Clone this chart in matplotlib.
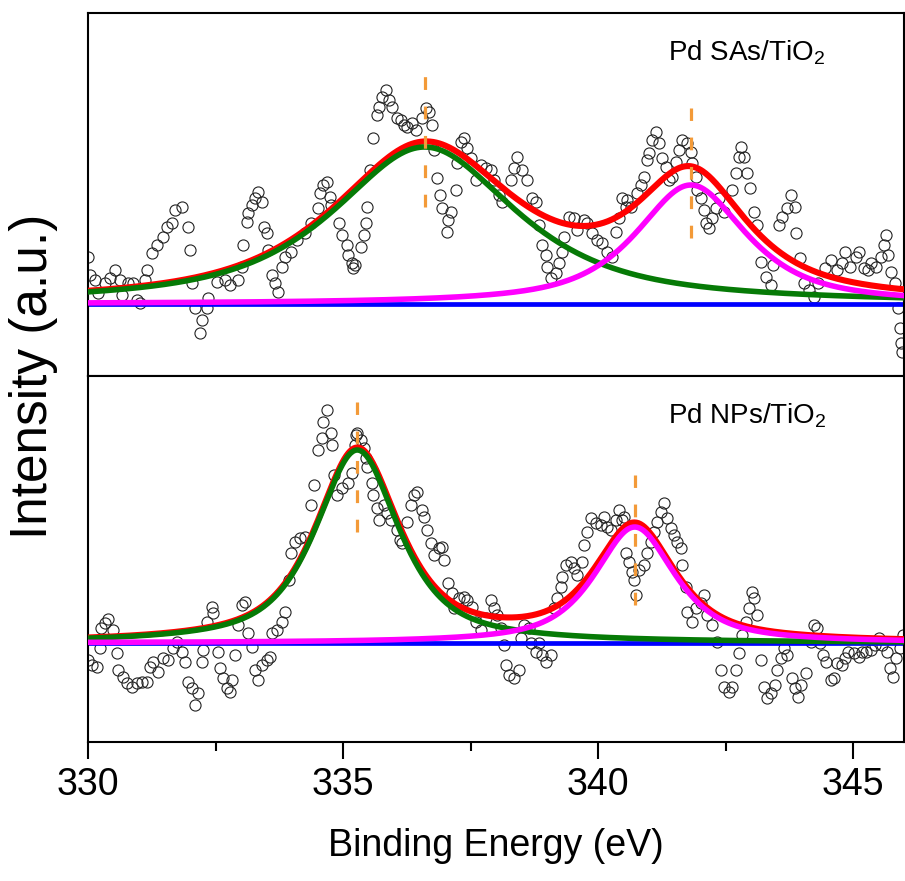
import numpy as np
import matplotlib
matplotlib.use("Agg")
import matplotlib.pyplot as plt

plt.rcParams['font.family'] = ['Liberation Sans', 'DejaVu Sans']
plt.rcParams['mathtext.fontset'] = 'custom'
plt.rcParams['mathtext.rm'] = 'Liberation Sans'
plt.rcParams['mathtext.it'] = 'Liberation Sans:italic'

# Pd 3d spectra after background subtraction: (binding energy eV, intensity a.u.)
sa_points = [
    (330.00, 47), (330.04, 29), (330.14, 24), (330.20, 11), (330.33, 21), (330.43, 26),
    (330.53, 34), (330.63, 24), (330.67, 9), (330.78, 21), (330.88, 21), (330.96, 4),
    (331.02, 1), (331.12, 24), (331.15, 34), (331.25, 51), (331.35, 59), (331.47, 67),
    (331.55, 77), (331.64, 81), (331.70, 94), (331.84, 97), (331.96, 77), (332.00, 54),
    (332.04, 21), (332.09, -4), (332.19, -29), (332.23, -16), (332.33, -4), (332.35, 6),
    (332.52, 22), (332.68, 24), (332.78, 19), (332.94, 24), (333.01, 37), (333.03, 59),
    (333.11, 82), (333.13, 91), (333.21, 99), (333.27, 106), (333.33, 112), (333.41, 102),
    (333.46, 77), (333.50, 71), (333.52, 54), (333.60, 29), (333.66, 21), (333.72, 12),
    (333.80, 37), (333.86, 47), (333.99, 52), (334.09, 64), (334.25, 71), (334.38, 81),
    (334.50, 96), (334.54, 111), (334.60, 119), (334.68, 122), (334.74, 107), (334.77, 99),
    (334.93, 81), (334.99, 69), (335.07, 59), (335.09, 49), (335.17, 41), (335.19, 36),
    (335.23, 39), (335.36, 57), (335.42, 69), (335.46, 81), (335.48, 97), (335.52, 134),
    (335.58, 166), (335.66, 189), (335.71, 197), (335.77, 207), (335.85, 214), (335.91, 204),
    (335.97, 197), (336.05, 186), (336.14, 184), (336.20, 179), (336.26, 177), (336.36, 181),
    (336.44, 174), (336.54, 186), (336.63, 196), (336.69, 192), (336.75, 179), (336.79, 154),
    (336.85, 126), (336.91, 109), (336.95, 96), (337.03, 72), (337.05, 84), (337.12, 92),
    (337.22, 114), (337.24, 141), (337.32, 162), (337.38, 166), (337.44, 156), (337.51, 146),
    (337.61, 124), (337.71, 139), (337.81, 136), (337.91, 134), (337.96, 124), (338.06, 109),
    (338.12, 102), (338.30, 124), (338.36, 136), (338.41, 147), (338.51, 134), (338.61, 124),
    (338.71, 106), (338.79, 102), (338.85, 79), (338.90, 59), (338.98, 49), (339.00, 37),
    (339.08, 26), (339.18, 31), (339.24, 41), (339.30, 52), (339.33, 67), (339.43, 87),
    (339.53, 86), (339.59, 74), (339.73, 84), (339.78, 81), (339.88, 71), (339.98, 64),
    (340.08, 61), (340.18, 52), (340.27, 47), (340.35, 72), (340.41, 86), (340.47, 106),
    (340.55, 97), (340.57, 104), (340.65, 97), (340.76, 111), (340.84, 119), (340.90, 127),
    (340.96, 144), (341.00, 151), (341.06, 164), (341.13, 172), (341.19, 161), (341.25, 146),
    (341.33, 137), (341.39, 124), (341.45, 127), (341.53, 142), (341.59, 154), (341.64, 164),
    (341.74, 161), (341.82, 152), (341.84, 141), (341.92, 127), (341.94, 114), (342.02, 106),
    (342.07, 94), (342.11, 81), (342.17, 76), (342.23, 86), (342.31, 96), (342.37, 106),
    (342.47, 92), (342.62, 114), (342.70, 131), (342.76, 147), (342.80, 157), (342.86, 147),
    (342.92, 131), (342.99, 116), (343.05, 92), (343.11, 79), (343.19, 42), (343.29, 27),
    (343.39, 19), (343.44, 39), (343.54, 79), (343.60, 87), (343.70, 96), (343.78, 109),
    (343.87, 97), (343.89, 71), (343.97, 46), (344.03, 21), (344.13, 14), (344.23, 7),
    (344.32, 21), (344.46, 36), (344.56, 44), (344.68, 34), (344.78, 41), (344.85, 52),
    (344.95, 37), (345.05, 47), (345.11, 52), (345.21, 36), (345.30, 34), (345.36, 41),
    (345.46, 37), (345.54, 47), (345.60, 59), (345.64, 69), (345.69, 49), (345.75, 32),
    (345.83, 21), (345.89, -4), (345.93, -24), (345.95, -39), (345.97, -48),
]

np_points = [
    (330.00, -17), (330.08, -22), (330.18, -24), (330.23, -5), (330.25, 15), (330.33, 20),
    (330.39, 24), (330.49, 13), (330.57, -10), (330.59, -27), (330.68, -34), (330.76, -40),
    (330.86, -44), (330.96, -40), (331.06, -39), (331.15, -39), (331.21, -24), (331.27, -19),
    (331.37, -29), (331.47, -15), (331.57, -17), (331.66, -5), (331.74, 1), (331.84, -9),
    (331.90, -19), (331.96, -39), (332.04, -45), (332.09, -62), (332.15, -50), (332.23, -19),
    (332.25, -7), (332.33, 21), (332.43, 36), (332.45, 30), (332.54, -9), (332.58, -25),
    (332.64, -35), (332.72, -45), (332.78, -49), (332.82, -37), (332.88, -12), (332.94, 18),
    (333.01, 38), (333.07, 41), (333.13, 10), (333.21, -4), (333.27, -27), (333.33, -37),
    (333.41, -22), (333.50, -17), (333.56, -14), (333.60, 10), (333.70, 13), (333.80, 21),
    (333.86, 31), (333.95, 63), (333.99, 90), (334.05, 101), (334.15, 105), (334.25, 106),
    (334.38, 138), (334.44, 158), (334.50, 193), (334.58, 205), (334.60, 221), (334.68, 233),
    (334.77, 210), (334.79, 198), (334.83, 168), (334.89, 148), (334.99, 155), (335.09, 160),
    (335.17, 170), (335.23, 198), (335.26, 208), (335.28, 210), (335.36, 203), (335.42, 195),
    (335.46, 185), (335.48, 176), (335.56, 160), (335.58, 148), (335.66, 135), (335.71, 123),
    (335.81, 138), (335.87, 130), (335.95, 123), (336.05, 113), (336.11, 103), (336.16, 100),
    (336.26, 121), (336.34, 138), (336.40, 148), (336.46, 151), (336.54, 133), (336.59, 126),
    (336.65, 113), (336.73, 100), (336.79, 88), (336.89, 95), (336.95, 96), (336.99, 83),
    (337.05, 60), (337.14, 50), (337.18, 35), (337.28, 45), (337.38, 46), (337.44, 43),
    (337.53, 36), (337.61, 21), (337.71, 13), (337.81, 25), (337.91, 43), (337.96, 35),
    (338.02, 28), (338.10, 15), (338.16, -2), (338.20, -22), (338.26, -32), (338.36, -35),
    (338.45, -27), (338.49, 5), (338.55, 18), (338.65, 15), (338.69, 0), (338.79, -9),
    (338.85, 0), (338.90, -12), (338.98, -19), (339.08, -12), (339.14, 35), (339.20, 45),
    (339.28, 56), (339.30, 66), (339.37, 78), (339.47, 81), (339.53, 75), (339.59, 68),
    (339.69, 81), (339.73, 98), (339.78, 111), (339.86, 125), (339.96, 120), (340.06, 118),
    (340.12, 126), (340.18, 116), (340.25, 113), (340.35, 123), (340.41, 133), (340.47, 123),
    (340.51, 126), (340.55, 90), (340.61, 81), (340.67, 71), (340.70, 63), (340.74, 48),
    (340.80, 73), (340.90, 78), (340.96, 90), (341.04, 101), (341.10, 111), (341.15, 121),
    (341.23, 131), (341.29, 140), (341.35, 125), (341.43, 115), (341.49, 108), (341.55, 101),
    (341.62, 95), (341.64, 78), (341.72, 56), (341.74, 31), (341.84, 21), (341.92, 35),
    (342.02, 40), (342.07, 48), (342.13, 28), (342.23, 18), (342.33, 1), (342.41, -27),
    (342.47, -44), (342.56, -49), (342.62, -44), (342.70, -27), (342.76, -10), (342.82, 8),
    (342.90, 21), (342.96, 35), (343.01, 51), (343.05, 45), (343.11, 28), (343.19, -17),
    (343.25, -44), (343.31, -55), (343.39, -50), (343.48, -42), (343.50, -27), (343.58, -15),
    (343.64, -5), (343.70, -12), (343.80, -35), (343.87, -45), (343.93, -54), (343.99, -42),
    (344.07, -30), (344.17, 1), (344.23, 18), (344.29, 15), (344.36, 0), (344.42, -12),
    (344.48, -19), (344.56, -37), (344.62, -35), (344.68, -20), (344.78, -22), (344.85, -15),
    (344.91, -9), (345.01, -10), (345.11, -14), (345.17, -9), (345.26, -9), (345.36, -7),
    (345.44, -2), (345.50, 5), (345.56, -2), (345.66, -9), (345.73, -25), (345.79, -34),
    (345.85, -15), (345.93, -5), (345.99, 8),
]

# fitted pseudo-Voigt components: centre (eV), height, FWHM (eV), Lorentzian fraction
sa_centers = [336.60, 341.82]
sa_heights = [157, 119]
sa_fwhm = [4.3, 2.6]
sa_eta = [0.8, 0.8]

np_centers = [335.28, 340.72]
np_heights = [193, 116]
np_fwhm = [1.96, 1.88]
np_eta = [0.75, 0.75]

# dashed markers at the peak positions: (lower, upper) intensity
sa_marks = [(97, 229), (66, 196)]
np_marks = [(111, 241), (38, 168)]

sa_label = 'Pd SAs/TiO$_2$'
np_label = 'Pd NPs/TiO$_2$'


def pvoigt(x, c, h, w, eta):
    lor = 1.0 / (1.0 + ((x - c) / (w / 2.0)) ** 2)
    gau = np.exp(-4.0 * np.log(2.0) * ((x - c) / w) ** 2)
    return h * (eta * lor + (1.0 - eta) * gau)


def draw_panel(ax, points, centers, heights, fwhm, eta, marks, label, ylim):
    e, y = zip(*points)
    ax.plot(e, y, 'o', ms=8, mfc='none', mec='#222222', mew=0.8, zorder=1)

    x = np.linspace(330, 346, 800)
    comp = [pvoigt(x, c, h, w, k) for c, h, w, k in zip(centers, heights, fwhm, eta)]
    ax.plot(x, np.zeros_like(x), color='#0000ff', lw=3.4, zorder=2)
    ax.plot(x, comp[0] + comp[1], color='#ff0000', lw=4.4, zorder=3)
    ax.plot(x, comp[0], color='#067a06', lw=4.0, zorder=4)
    ax.plot(x, comp[1], color='#ff00ff', lw=4.0, zorder=4)

    for c, (lo, hi) in zip(centers, marks):
        ax.plot([c, c], [lo, hi], color='#f39a38', lw=2.3, dashes=(4.0, 5.2), zorder=5)

    ax.text(0.711, 0.87, label, transform=ax.transAxes, fontsize=20, va='baseline', ha='left')
    ax.set_xlim(330, 346)
    ax.set_ylim(*ylim)
    ax.set_yticks([])
    for s in ax.spines.values():
        s.set_linewidth(1.5)


fig = plt.figure(figsize=(9.05, 8.81), dpi=100)
ax1 = fig.add_axes([88 / 905, 1 - 376 / 881, 816 / 905, 363 / 881])
ax2 = fig.add_axes([88 / 905, 1 - 742 / 881, 816 / 905, 366 / 881])

draw_panel(ax1, sa_points, sa_centers, sa_heights, sa_fwhm, sa_eta, sa_marks, sa_label, (-72, 291))
draw_panel(ax2, np_points, np_centers, np_heights, np_fwhm, np_eta, np_marks, np_label, (-99, 267))

ax1.set_xticks([])
ax2.set_xticks([330, 335, 340, 345])
ax2.set_xticks([332.5, 337.5, 342.5], minor=True)
ax2.tick_params(axis='x', which='major', direction='out', length=12, width=1.5,
                labelsize=27, pad=6)
ax2.tick_params(axis='x', which='minor', direction='out', length=6.5, width=1.5)
ax2.set_xlabel('Binding Energy (eV)', fontsize=27, labelpad=18)

fig.text(34 / 905, 1 - 376 / 881, 'Intensity (a.u.)', rotation=90, fontsize=37,
         ha='center', va='center')

fig.savefig('out.png', dpi=100)
